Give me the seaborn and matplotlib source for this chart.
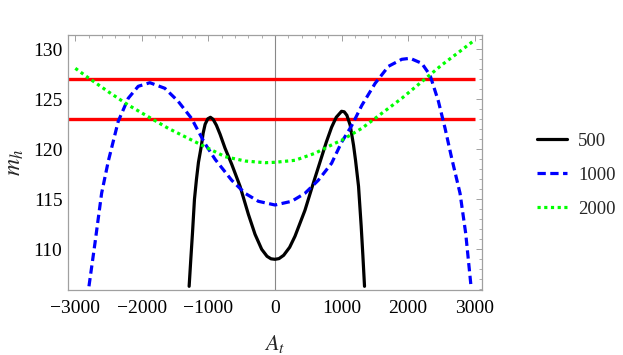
import matplotlib
matplotlib.use("Agg")
import matplotlib.pyplot as plt
import seaborn as sns
import pandas as pd
import numpy as np

# ---- data ----
at_500 = [-1290, -1265, -1240, -1210, -1180, -1150, -1105, -1080, -1050, -1010, -970, -930, -880, -825,
          -750, -650, -525, -400, -300, -200, -120, -60, 0, 60, 130, 220, 300, 450, 575, 675, 770, 850, 920, 1000, 1040, 1080,
          1130, 1180, 1210, 1255, 1295, 1320, 1345]
mh_500 = [106.3, 109.0, 111.6, 115.0, 117.0, 118.7, 120.4, 121.6, 122.5, 123.05, 123.2, 123.0, 122.4, 121.5,
          120.1, 118.5, 116.3, 113.5, 111.5, 110.0, 109.3, 109.05, 109.0, 109.07, 109.4, 110.2, 111.3, 113.9, 116.6, 118.7, 120.7, 122.2, 123.2, 123.8, 123.75, 123.4,
          122.4, 120.4, 118.9, 116.3, 112.3, 109.4, 106.3]

at_1000 = [-2795, -2705, -2605, -2505, -2355, -2205, -2055, -1880, -1655, -1455, -1255, -1055, -900,
           -650, -450, -250, 0, 250, 450, 650, 850, 1000, 1155, 1305, 1505, 1705, 1905, 2030, 2205,
           2330, 2455, 2555, 2655, 2780, 2865, 2945]
mh_1000 = [106.3, 110.6, 115.6, 118.8, 122.8, 125.1, 126.3, 126.66, 126.1, 124.8, 123.1, 120.6, 119.0,
           116.9, 115.6, 114.8, 114.43, 114.8, 115.6, 116.9, 118.6, 120.7, 122.4, 124.4, 126.6, 128.3, 129.0, 129.1, 128.6,
           127.4, 124.8, 122.1, 119.1, 115.6, 111.6, 106.3]

at_2000 = [-3000, -2805, -2505, -2205, -1905, -1605, -1305, -1005, -750, -450, -150, 0, 300, 600, 900,
           1000, 1305, 1605, 1905, 2205, 2505, 2805, 3000]
mh_2000 = [128.1, 127.15, 125.76, 124.43, 123.26, 122.1, 121.1, 120.1, 119.26, 118.83, 118.66, 118.7, 118.9, 119.6, 120.6,
           120.9, 122.1, 123.6, 125.1, 126.76, 128.43, 129.93, 130.93]

series_labels = ["500", "1000", "2000"]
red_levels = [127, 123]
x_ticks = [-3000, -2000, -1000, 0, 1000, 2000, 3000]
y_ticks = [110, 115, 120, 125, 130]

# ---- figure ----
sns.set_style("white")
plt.rcParams["font.family"] = ["Liberation Serif", "DejaVu Serif"]
plt.rcParams["mathtext.fontset"] = "stix"

fig = plt.figure(figsize=(6.23, 3.55), dpi=100)
ax = fig.add_axes([68 / 623, 1 - 290 / 355, (482 - 68) / 623, (290 - 35) / 355])

ax.axvline(0, color="#888888", lw=0.8, zorder=1)

xl = (-3110, 3110)
for lev in red_levels:
    ax.plot([xl[0], 3000], [lev, lev], color="#ff0000", lw=2.4, zorder=2, solid_capstyle="butt")

frames = []
for lab, xs, ys in zip(series_labels, [at_500, at_1000, at_2000], [mh_500, mh_1000, mh_2000]):
    frames.append(pd.DataFrame({"At": xs, "mh": ys, "series": lab}))
df = pd.concat(frames, ignore_index=True)

colors = {"500": "#000000", "1000": "#0000ff", "2000": "#00ff00"}
for lab in series_labels:
    sub = df[df.series == lab]
    sns.lineplot(data=sub, x="At", y="mh", ax=ax, color=colors[lab], lw=2.3,
                 sort=False, estimator=None, label=lab, zorder=3)
for line, lab in zip(ax.get_lines()[-3:], series_labels):
    line.set_solid_joinstyle("round")
    if lab == "1000":
        line.set_dashes([2.6, 1.4])
    elif lab == "2000":
        line.set_dashes([1.0, 1.1])
        line.set_dash_capstyle("butt")

ax.set_xlim(*xl)
ax.set_ylim(105.93, 131.43)
ax.set_xticks(x_ticks)
ax.set_xticklabels([("\u2212" + str(abs(t))) if t < 0 else str(t) for t in x_ticks])
ax.set_yticks(y_ticks)
ax.set_xticks(np.arange(-3000, 3001, 200), minor=True)
ax.set_yticks(np.arange(106, 132, 1), minor=True)

for sp in ax.spines.values():
    sp.set_color("#a0a0a0")
    sp.set_linewidth(0.9)
ax.tick_params(which="both", direction="in", top=True, right=True, colors="#a0a0a0",
               labelcolor="black", labelsize=14)
ax.tick_params(which="major", length=4.5, width=0.7)
ax.tick_params(which="minor", length=2.5, width=0.6)
ax.tick_params(axis="x", which="major", pad=7)
ax.tick_params(axis="y", which="major", pad=4)

ax.set_xlabel("$A_t$", fontsize=16, labelpad=12)
ax.set_ylabel("$m_h$", fontsize=17, labelpad=5)

handles, labels = ax.get_legend_handles_labels()
if ax.get_legend():
    ax.get_legend().remove()
fig.legend(handles[-3:], labels[-3:], loc="center left", bbox_to_anchor=(537 / 623, 1 - 175 / 355),
           frameon=False, fontsize=13.5, handlelength=1.6, handletextpad=0.6,
           labelspacing=0.9, borderpad=0, borderaxespad=0)

fig.savefig("out.png", dpi=100)
